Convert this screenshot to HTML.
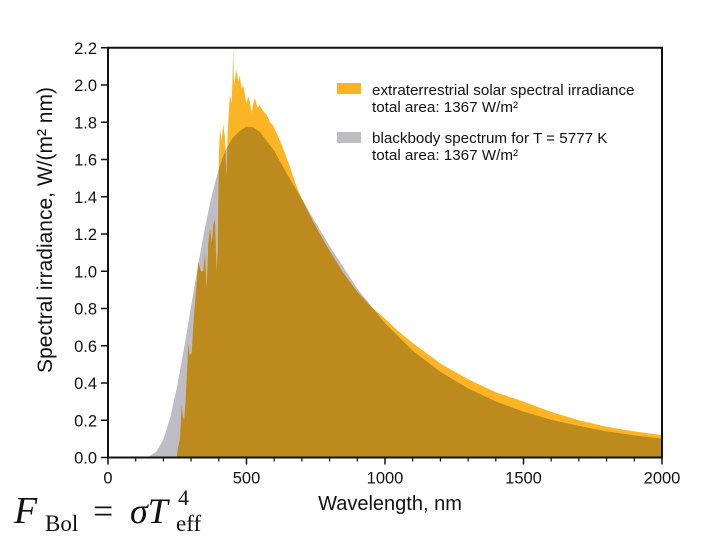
<!DOCTYPE html>
<html><head><meta charset="utf-8"><style>
html,body{margin:0;padding:0;background:#fff;width:720px;height:540px;overflow:hidden}
svg{display:block}
text{font-family:"Liberation Sans",Arial,sans-serif;fill:#111}
</style></head><body>
<svg id="chart" width="720" height="540" viewBox="0 0 720 540">
<defs><clipPath id="solarClip"><path id="clipPath1" d=""/></clipPath></defs>
<g id="marks"></g>
<g id="axes"></g>
<g>
 <rect x="337" y="83" width="24" height="11" fill="#fbb424"/>
 <text x="372" y="95" font-size="15.2">extraterrestrial solar spectral irradiance</text>
 <text x="372" y="112" font-size="15.2">total area: 1367 W/m²</text>
 <rect x="337" y="132" width="24" height="11" fill="#bebdc5"/>
 <text x="372" y="143" font-size="15.2">blackbody spectrum for T = 5777 K</text>
 <text x="372" y="160" font-size="15.2">total area: 1367 W/m²</text>
</g>
<text x="390" y="510" font-size="20" text-anchor="middle">Wavelength, nm</text>
<text transform="translate(52,230) rotate(-90)" font-size="21" text-anchor="middle">Spectral irradiance, W/(m² nm)</text>
<g>
 <text x="14" y="523" font-size="38" font-style="italic" style="font-family:'Liberation Serif',serif">F</text>
 <text x="45" y="531" font-size="23" style="font-family:'Liberation Serif',serif">Bol</text>
 <text x="93" y="523" font-size="36" style="font-family:'Liberation Serif',serif">=</text>
 <text x="130" y="523" font-size="36" font-style="italic" style="font-family:'Liberation Serif',serif">σT</text>
 <text x="178" y="505" font-size="22" style="font-family:'Liberation Serif',serif">4</text>
 <text x="176" y="531" font-size="23" style="font-family:'Liberation Serif',serif">eff</text>
</g>
</svg>
<script>
const solarWl=[248,252,260,266,270,275,280,285,290,295,302,310,318,326,335,344,350,356,362,368,375,380,386,392,396,400,404,410,416,422,428,432,436,440,446,450,452,455,460,464,470,476,482,488,494,500,506,512,518,524,530,540,548,560,573,585,597,612,627,642,657,675,693,710,729,765,800,850,900,950,1000,1050,1100,1200,1300,1400,1500,1600,1700,1800,1900,2000];
const solarVal=[0,0.05,0.1,0.28,0.22,0.2,0.3,0.45,0.61,0.55,0.56,0.75,0.9,1.05,1.0,1.0,1.1,0.9,1.15,1.23,1.15,1.25,1.28,1.0,1.1,1.6,1.77,1.7,1.79,1.72,1.5,1.75,1.85,1.95,1.9,2.05,2.2,2.0,2.05,2.08,2.02,2.05,1.98,2.0,1.95,1.9,1.94,1.91,1.85,1.9,1.93,1.88,1.89,1.86,1.84,1.8,1.78,1.73,1.68,1.62,1.56,1.48,1.41,1.36,1.30,1.2,1.11,0.99,0.89,0.81,0.745,0.675,0.615,0.505,0.42,0.35,0.30,0.245,0.2,0.165,0.14,0.12];
const bbWl=[100,120,140,150,175,200,225,250,275,300,325,350,375,400,425,450,475,500,525,550,600,650,700,750,800,900,1000,1100,1200,1300,1400,1500,1600,1700,1800,1900,2000];
const bbVal=[0,0.0001,0.003,0.0065,0.032,0.098,0.215,0.385,0.59,0.814,1.03,1.235,1.41,1.55,1.654,1.715,1.753,1.777,1.772,1.745,1.647,1.512,1.387,1.26,1.135,0.906,0.721,0.574,0.46,0.371,0.301,0.246,0.203,0.169,0.141,0.119,0.101];
const xTicks=[0,500,1000,1500,2000];
const yTicks=[0,0.2,0.4,0.6,0.8,1.0,1.2,1.4,1.6,1.8,2.0,2.2];
const X0=108,X1=662,Y0=457.5,YT=47.75;
const xs=v=>X0+(v/2000)*(X1-X0);
const ys=v=>Y0-(v/2.2)*(Y0-YT);
const NS='http://www.w3.org/2000/svg';
function area(wl,val){let d='M'+xs(wl[0])+','+ys(0);for(let i=0;i<wl.length;i++)d+='L'+xs(wl[i]).toFixed(2)+','+ys(val[i]).toFixed(2);d+='L'+xs(wl[wl.length-1])+','+ys(0)+'Z';return d;}
const marks=document.getElementById('marks');
const sd=area(solarWl,solarVal),bd=area(bbWl,bbVal);
document.getElementById('clipPath1').setAttribute('d',sd);
const p1=document.createElementNS(NS,'path');p1.setAttribute('d',bd);p1.setAttribute('fill','#bebdc5');


marks.appendChild(p1);
const p2=document.createElementNS(NS,'path');p2.setAttribute('d',sd);p2.setAttribute('fill','#fbb424');


marks.appendChild(p2);
const p3=document.createElementNS(NS,'path');p3.setAttribute('d',bd);p3.setAttribute('fill','#bd8a1e');p3.setAttribute('clip-path','url(#solarClip)');


marks.appendChild(p3);
const ax=document.getElementById('axes');
function ln(x1,y1,x2,y2,w){const l=document.createElementNS(NS,'line');l.setAttribute('x1',x1);l.setAttribute('y1',y1);l.setAttribute('x2',x2);l.setAttribute('y2',y2);l.setAttribute('stroke','#111');l.setAttribute('stroke-width',w);ax.appendChild(l);return l;}
const fr=document.createElementNS(NS,'rect');fr.setAttribute('x',X0);fr.setAttribute('y',YT);fr.setAttribute('width',X1-X0);fr.setAttribute('height',Y0-YT);fr.setAttribute('fill','none');fr.setAttribute('stroke','#111');fr.setAttribute('stroke-width','2');


ax.appendChild(fr);
for(let v=100;v<2000;v+=100){if(v%500)ln(xs(v),Y0,xs(v),Y0+4,1.2);}
xTicks.forEach(v=>{ln(xs(v),Y0,xs(v),Y0+7,1.5);const t=document.createElementNS(NS,'text');t.setAttribute('x',xs(v));t.setAttribute('y',Y0+26);t.setAttribute('font-size','16.5');t.setAttribute('text-anchor','middle');t.textContent=v;


ax.appendChild(t);});
yTicks.forEach(v=>{ln(X0-7,ys(v),X0,ys(v),1.5);const t=document.createElementNS(NS,'text');t.setAttribute('x',X0-11);t.setAttribute('y',ys(v)+6);t.setAttribute('font-size','16.5');t.setAttribute('text-anchor','end');t.textContent=v.toFixed(1);


ax.appendChild(t);});
</script>
</body></html>
